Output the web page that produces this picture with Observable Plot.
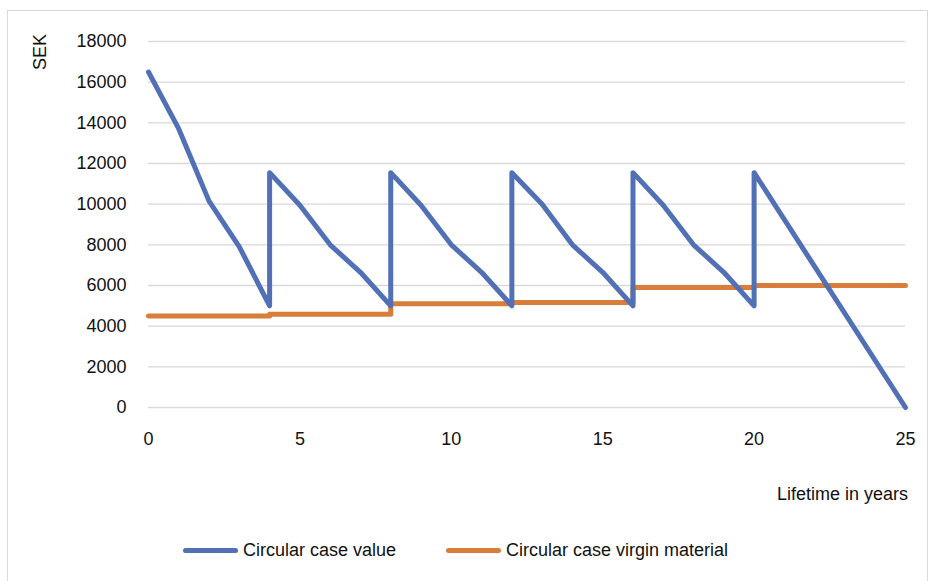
<!DOCTYPE html>
<html>
<head>
<meta charset="utf-8">
<script src="https://cdn.jsdelivr.net/npm/d3@7"></script>
<script src="https://cdn.jsdelivr.net/npm/@observablehq/plot@0.6"></script>
<style>
  html, body { margin: 0; padding: 0; background: #fff; }
  #wrap { position: relative; width: 936px; height: 581px; font-family: "Liberation Sans", Arial, sans-serif; color: #111; overflow: hidden; }
  #frame { position: absolute; left: 7px; top: 10px; width: 921px; height: 575px; border: 1px solid #d9d9d9; box-sizing: border-box; }
  #chart { position: absolute; left: 0; top: 0; }
  .lbl { position: absolute; font-size: 18px; white-space: nowrap; }
  #ylab { left: 40px; top: 52px; transform: translate(-50%, -50%) rotate(-90deg); }
  #xlab { right: 28px; top: 484px; }
  #legend { position: absolute; top: 539px; left: 0; width: 936px; height: 22px; font-size: 18px; }
  .item { position: absolute; top: 0; display: flex; align-items: center; height: 22px; }
  .swatch { width: 55px; height: 5px; border-radius: 3px; margin-right: 5px; }
</style>
</head>
<body>
<div id="wrap">
  <div id="frame"></div>
  <div id="chart"></div>
  <div class="lbl" id="ylab">SEK</div>
  <div class="lbl" id="xlab">Lifetime in years</div>
  <div id="legend"></div>
</div>
<script>
// Series names
const seriesNames = ["Circular case value", "Circular case virgin material"];
const seriesColors = ["#5170b6", "#d87d3a"];

// Circular case value (years, SEK)
const valueYears = [0, 1, 2, 3, 4, 4, 5, 6, 7, 8, 8, 9, 10, 11, 12, 12, 13, 14, 15, 16, 16, 17, 18, 19, 20, 20, 25];
const valueSEK   = [16500, 13700, 10150, 7900, 5000, 11550, 9950, 8000, 6650, 5000, 11550, 9950, 8000, 6650, 5000, 11550, 10000, 8000, 6650, 5000, 11550, 9950, 8000, 6650, 5000, 11550, 0];

// Circular case virgin material (years, SEK)
const virginYears = [0, 4, 4, 8, 8, 12, 12, 16, 16, 20, 20, 25];
const virginSEK   = [4500, 4500, 4580, 4580, 5100, 5100, 5170, 5170, 5900, 5900, 6000, 6000];

// Axis ticks
const xTicks = [0, 5, 10, 15, 20, 25];
const yTicks = [0, 2000, 4000, 6000, 8000, 10000, 12000, 14000, 16000, 18000];

const valueData = valueYears.map((x, i) => ({x, y: valueSEK[i]}));
const virginData = virginYears.map((x, i) => ({x, y: virginSEK[i]}));

const plot = Plot.plot({
  width: 936,
  height: 470,
  marginLeft: 148,
  marginRight: 31,
  marginTop: 41,
  marginBottom: 63,
  style: {fontFamily: "'Liberation Sans', Arial, sans-serif", fontSize: "18px", color: "#111", background: "transparent"},
  x: {domain: [0, 25]},
  y: {domain: [0, 18000]},
  marks: [
    Plot.gridY(yTicks, {stroke: "#d9d9d9", strokeOpacity: 1, strokeWidth: 1.3}),
    Plot.axisY(yTicks, {tickSize: 0, tickPadding: 22, tickFormat: d => String(d), label: null, fontSize: 18}),
    Plot.axisX(xTicks, {tickSize: 0, tickPadding: 25, tickFormat: d => String(d), label: null, fontSize: 18}),
    Plot.line(virginData, {x: "x", y: "y", stroke: seriesColors[1], strokeWidth: 5, strokeLinecap: "round", strokeLinejoin: "round"}),
    Plot.line(valueData, {x: "x", y: "y", stroke: seriesColors[0], strokeWidth: 5, strokeLinecap: "round", strokeLinejoin: "round"})
  ]
});
document.getElementById("chart").appendChild(plot);

const legend = document.getElementById("legend");
const legendLefts = [183, 446];
seriesNames.forEach((name, i) => {
  const item = document.createElement("div");
  item.className = "item";
  item.style.left = legendLefts[i] + "px";
  item.innerHTML = `<span class="swatch" style="background:${seriesColors[i]}"></span><span>${name}</span>`;
  legend.appendChild(item);
});
</script>
</body>
</html>
